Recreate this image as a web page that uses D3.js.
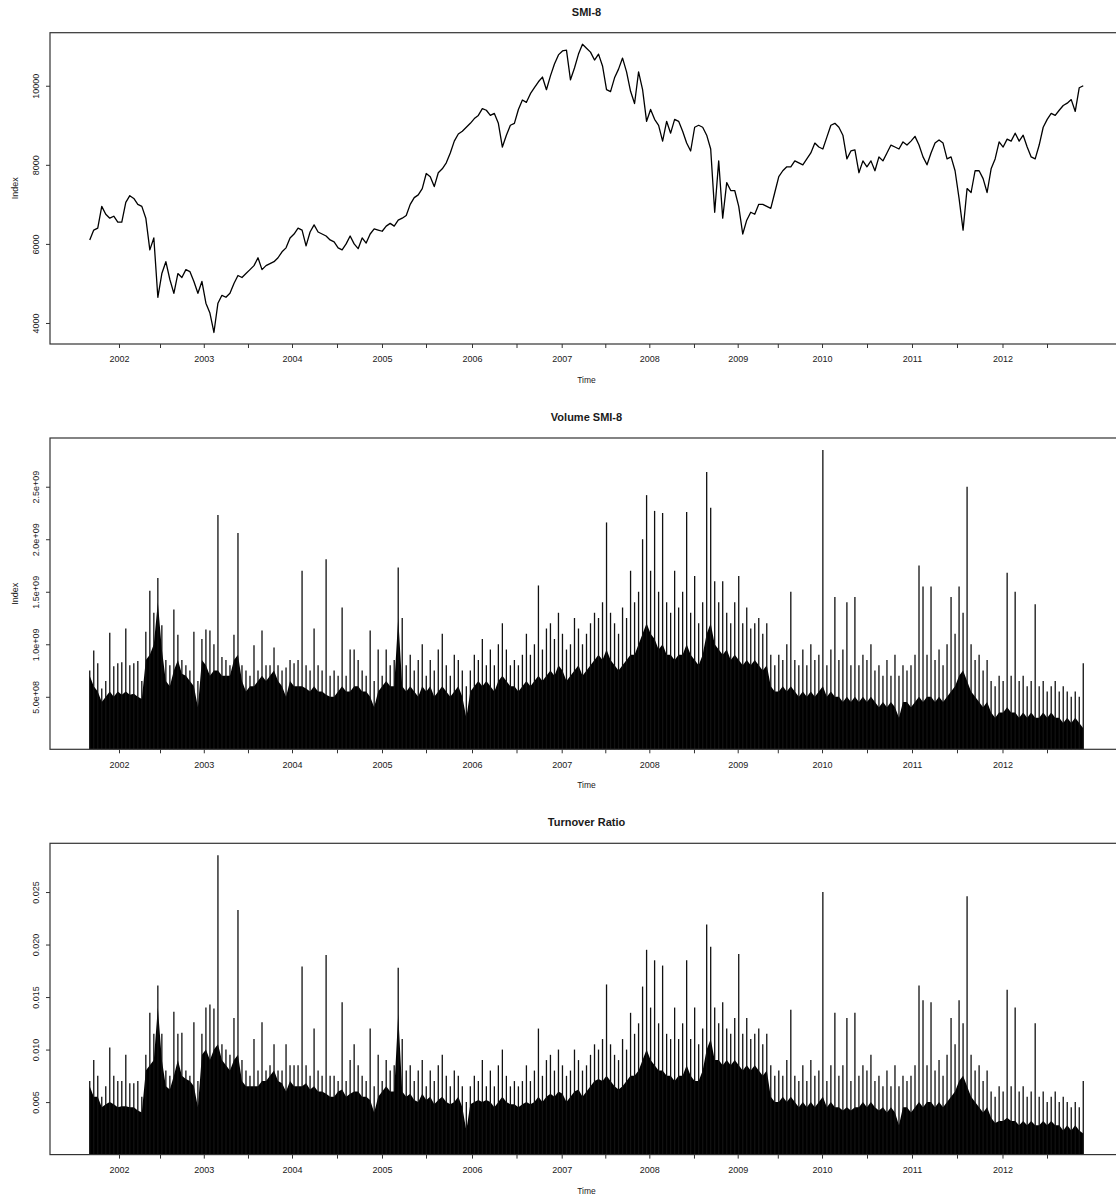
<!DOCTYPE html>
<html>
<head>
<meta charset="utf-8">
<script src="https://cdn.jsdelivr.net/npm/d3@7"></script>
<style>
body { margin: 0; background: #fff; }
svg text { font-family: "Liberation Sans", Arial, sans-serif; fill: #1a1a1a; }
</style>
</head>
<body>
<svg id="chart" width="1116" height="1195"></svg>
<script>
// SMI-8 closing level, one sample per ~12 trading days (Sep 2001 - Nov 2012)
const smiIndex = [
  6100, 6350, 6400, 6950, 6750, 6650, 6700, 6550, 6550, 7050,
  7220, 7150, 7000, 6950, 6650, 5850, 6150, 4650, 5250, 5550,
  5100, 4750, 5250, 5150, 5350, 5300, 5050, 4750, 5050, 4500,
  4250, 3760, 4500, 4700, 4650, 4750, 5000, 5200, 5150, 5250,
  5350, 5450, 5650, 5350, 5450, 5500, 5550, 5650, 5800, 5900,
  6150, 6250, 6400, 6350, 5950, 6300, 6480, 6300, 6250, 6200,
  6100, 6050, 5900, 5850, 6000, 6200, 6000, 5880, 6150, 6020,
  6250, 6380, 6350, 6320, 6450, 6520, 6450, 6600, 6650, 6720,
  7000, 7170, 7240, 7400, 7780, 7700, 7450, 7800, 7900, 8050,
  8300, 8600, 8780, 8850, 8950, 9050, 9170, 9250, 9420, 9380,
  9250, 9300, 9050, 8450, 8750, 9000, 9050, 9400, 9640, 9580,
  9800, 9950, 10100, 10220, 9900, 10250, 10550, 10780, 10880, 10900,
  10150, 10450, 10800, 11050, 10950, 10850, 10650, 10800, 10500, 9900,
  9850, 10200, 10420, 10700, 10350, 9860, 9550, 10350, 9900, 9100,
  9400, 9150, 9000, 8600, 9100, 8800, 9150, 9100, 8850, 8550,
  8350, 8950, 9000, 8950, 8750, 8400, 6800, 8100, 6650, 7550,
  7350, 7350, 6950, 6250, 6600, 6800, 6750, 7000, 7000, 6950,
  6900, 7300, 7700, 7850, 7950, 7950, 8100, 8050, 8000, 8150,
  8300, 8550, 8450, 8400, 8700, 9000, 9050, 8950, 8750, 8150,
  8350, 8380, 7800, 8100, 7950, 8100, 7850, 8200, 8100, 8300,
  8500, 8450, 8400, 8580, 8500, 8600, 8720, 8500, 8200, 8000,
  8300, 8550, 8630, 8550, 8150, 8200, 7850, 7150, 6350, 7400,
  7300, 7850, 7850, 7650, 7300, 7900, 8150, 8580, 8450, 8650,
  8600, 8800, 8600, 8750, 8450, 8200, 8150, 8500, 8950, 9150,
  9300, 9250, 9380, 9500, 9560, 9650, 9350, 9950, 10000
]

// volume in units of 1e8: solid body level and highest spike per sample
const volumeLow = [
  7.0, 6.0, 5.5, 4.5, 5.0, 5.5, 5.0, 5.5, 5.2, 5.5,
  5.2, 5.3, 5.0, 4.8, 8.5, 9.0, 10.0, 14.0, 9.5, 6.5,
  6.0, 7.5, 8.5, 7.2, 7.0, 6.5, 6.0, 4.0, 8.5, 8.0,
  7.0, 7.5, 7.5, 7.0, 7.0, 7.0, 8.5, 9.0, 6.5, 5.5,
  6.0, 6.0, 6.5, 7.0, 6.5, 7.0, 7.5, 6.5, 6.0, 5.0,
  6.5, 6.0, 6.0, 6.0, 5.8, 5.5, 6.0, 5.5, 5.5, 5.2,
  5.0, 5.0, 5.5, 6.0, 5.5, 5.5, 6.0, 6.0, 5.5, 5.5,
  5.0, 4.0, 5.5, 6.0, 6.5, 6.0, 6.0, 12.5, 6.0, 5.5,
  6.0, 5.5, 5.0, 6.0, 5.5, 6.0, 5.0, 5.5, 6.0, 5.5,
  5.0, 5.5, 6.0, 5.0, 3.0, 5.5, 6.0, 6.5, 6.0, 6.5,
  6.0, 5.5, 6.5, 7.0, 6.5, 6.0, 6.0, 5.5, 6.0, 6.5,
  6.0, 6.5, 7.0, 6.5, 7.0, 7.5, 7.0, 8.0, 7.5, 6.5,
  7.0, 7.5, 8.0, 7.0, 7.5, 8.0, 8.5, 9.0, 8.5, 9.5,
  8.5, 8.0, 7.5, 8.0, 8.5, 9.0, 9.0, 10.0, 11.0, 12.0,
  11.0, 10.5, 9.5, 10.0, 9.0, 9.0, 8.5, 9.0, 9.0, 10.0,
  9.0, 8.5, 8.0, 9.0, 11.0, 12.0, 10.0, 9.5, 9.0, 9.5,
  8.5, 9.0, 8.5, 8.0, 8.5, 8.0, 8.5, 8.0, 7.5, 8.0,
  6.0, 5.5, 5.5, 6.0, 5.5, 6.0, 5.5, 5.0, 5.5, 5.0,
  5.5, 5.0, 5.5, 6.0, 5.0, 5.5, 5.0, 5.0, 4.5, 5.0,
  4.5, 5.0, 4.5, 5.0, 4.5, 5.0, 4.5, 4.0, 4.5, 4.0,
  4.5, 4.0, 3.0, 4.5, 4.5, 4.0, 4.5, 5.0, 4.5, 5.0,
  5.0, 4.5, 5.0, 4.5, 5.0, 5.5, 6.0, 7.0, 7.5, 6.5,
  5.5, 5.0, 4.5, 4.0, 4.5, 3.5, 3.0, 3.5, 3.5, 4.0,
  3.5, 3.5, 3.0, 3.5, 3.0, 3.5, 3.0, 3.0, 3.5, 3.0,
  3.5, 3.0, 3.0, 2.5, 3.0, 2.5, 3.0, 2.5, 2.0
]
const volumeHigh = [
  7.5, 9.4, 8.2, 5.8, 6.5, 11.1, 7.9, 8.2, 8.3, 11.5,
  8.0, 8.2, 8.4, 6.5, 11.2, 15.1, 13.0, 16.3, 11.8, 8.5,
  8.0, 13.3, 10.9, 8.5, 8.0, 7.5, 11.2, 6.5, 10.5, 11.4,
  11.3, 10.0, 22.3, 8.8, 8.5, 8.0, 10.9, 20.6, 8.0, 7.5,
  7.0, 9.9, 7.5, 11.3, 8.0, 8.0, 9.7, 8.0, 7.5, 7.8,
  8.5, 8.2, 8.5, 17.0, 8.0, 7.5, 11.5, 8.0, 7.5, 18.1,
  7.0, 7.5, 7.0, 13.5, 7.0, 9.5, 9.5, 8.5, 7.5, 7.0,
  11.3, 6.5, 9.5, 7.0, 9.5, 8.0, 8.5, 17.3, 12.5, 8.0,
  9.0, 7.5, 8.5, 10.0, 7.0, 8.5, 7.5, 9.5, 11.0, 8.0,
  7.0, 9.0, 8.5, 7.5, 6.0, 7.5, 9.0, 8.5, 10.5, 8.0,
  9.5, 8.0, 10.0, 12.0, 9.5, 8.0, 8.5, 8.0, 9.0, 11.0,
  9.0, 10.0, 15.6, 9.5, 11.5, 12.0, 10.5, 13.0, 11.0, 9.5,
  10.0, 12.5, 11.5, 10.0, 11.0, 12.0, 13.0, 12.5, 14.0, 21.6,
  13.0, 12.0, 11.0, 13.5, 12.5, 17.0, 14.0, 15.0, 20.0, 24.2,
  17.0, 22.7, 15.0, 22.5, 14.0, 13.0, 17.0, 13.5, 15.0, 22.6,
  13.0, 16.5, 12.0, 14.0, 26.4, 23.0, 16.0, 14.0, 16.0, 13.0,
  12.0, 14.0, 16.5, 12.0, 13.5, 11.5, 12.0, 12.5, 11.0, 12.0,
  9.0, 8.0, 9.0, 8.5, 10.0, 15.0, 8.5, 8.0, 9.5, 8.0,
  10.0, 8.5, 9.0, 28.5, 8.0, 9.5, 14.5, 8.5, 9.5, 14.0,
  8.0, 14.5, 8.0, 9.0, 8.5, 10.0, 7.5, 8.0, 7.0, 8.5,
  7.0, 9.0, 7.0, 8.0, 7.5, 8.0, 9.0, 17.5, 15.5, 9.0,
  15.5, 8.5, 9.5, 8.0, 10.0, 14.5, 11.0, 15.5, 13.0, 25.0,
  10.0, 8.5, 9.0, 7.5, 8.5, 6.5, 6.0, 7.0, 6.5, 16.8,
  7.0, 15.0, 6.5, 7.0, 6.0, 6.5, 13.8, 6.0, 6.5, 5.5,
  6.0, 6.5, 5.5, 6.0, 5.5, 5.0, 5.5, 5.0, 8.2
]

// turnover ratio in units of 1e-3
const turnoverLow = [
  6.5, 5.5, 5.5, 4.5, 4.8, 5.0, 4.8, 4.5, 4.6, 4.6,
  4.5, 4.5, 4.2, 4.0, 8.0, 8.5, 9.0, 14.0, 9.0, 6.5,
  6.2, 7.5, 9.0, 7.5, 7.2, 7.0, 6.5, 4.5, 9.5, 10.0,
  9.0, 10.0, 10.5, 9.0, 8.5, 8.0, 9.0, 9.5, 7.0, 6.5,
  6.5, 6.5, 6.5, 7.0, 7.0, 7.5, 8.0, 7.0, 6.8, 6.0,
  7.0, 6.5, 6.5, 6.5, 6.8, 6.2, 6.5, 6.0, 6.0, 5.8,
  5.5, 5.5, 6.0, 6.2, 5.5, 5.8, 6.0, 6.0, 5.5, 5.5,
  5.2, 4.0, 5.5, 6.0, 6.5, 6.0, 6.0, 13.4, 6.0, 5.5,
  5.8, 5.2, 5.0, 5.8, 5.2, 5.5, 4.8, 5.2, 5.5, 5.0,
  4.8, 5.0, 5.5, 4.5, 2.3, 4.8, 5.0, 5.2, 5.0, 5.2,
  5.0, 4.5, 5.0, 5.5, 5.0, 4.8, 4.8, 4.5, 4.8, 5.0,
  4.8, 5.0, 5.5, 5.0, 5.5, 5.8, 5.5, 6.0, 5.8, 5.0,
  5.5, 6.0, 6.2, 5.5, 6.0, 6.5, 7.0, 7.2, 7.0, 7.5,
  7.0, 6.5, 6.2, 6.5, 7.0, 7.5, 7.5, 8.0, 9.0, 10.0,
  9.0, 8.5, 8.0, 8.0, 7.5, 7.5, 7.0, 7.5, 7.5, 8.5,
  7.5, 7.0, 7.0, 8.0, 10.0, 11.0, 9.0, 9.0, 8.5, 9.0,
  8.5, 9.0, 8.5, 8.0, 8.5, 8.0, 8.5, 8.0, 7.5, 8.0,
  5.5, 5.0, 5.0, 5.5, 5.0, 5.5, 5.0, 4.5, 5.0, 4.5,
  5.0, 4.5, 5.0, 5.5, 4.5, 5.0, 4.5, 4.5, 4.2, 4.5,
  4.2, 4.5, 4.5, 5.0, 4.5, 5.0, 4.5, 4.2, 4.5, 4.0,
  4.5, 4.0, 2.8, 4.5, 4.5, 4.0, 4.5, 5.0, 4.5, 5.0,
  5.0, 4.5, 5.0, 4.5, 5.0, 5.5, 6.0, 7.0, 7.5, 6.5,
  5.5, 5.0, 4.5, 4.0, 4.5, 3.5, 3.0, 3.2, 3.2, 3.5,
  3.2, 3.2, 2.8, 3.2, 2.8, 3.2, 2.8, 2.8, 3.2, 2.8,
  3.2, 2.8, 2.8, 2.3, 2.8, 2.3, 2.8, 2.3, 2.0
]
const turnoverHigh = [
  7.0, 9.0, 7.5, 5.5, 6.5, 10.2, 7.5, 7.0, 7.0, 9.5,
  6.8, 6.8, 7.0, 5.5, 9.5, 13.5, 11.5, 16.1, 11.5, 8.0,
  7.5, 13.6, 11.5, 11.6, 8.0, 7.5, 12.6, 7.0, 11.5, 14.0,
  14.3, 13.9, 28.5, 10.5, 10.0, 9.5, 13.0, 23.3, 9.0, 8.0,
  7.5, 11.0, 8.0, 12.6, 8.0, 8.5, 10.5, 8.0, 8.0, 10.5,
  8.5, 8.5, 8.5, 17.9, 8.5, 7.5, 12.0, 8.0, 7.5, 19.0,
  7.5, 7.5, 7.0, 14.5, 7.0, 9.0, 10.5, 8.5, 7.5, 7.0,
  12.0, 6.5, 9.5, 7.0, 9.0, 8.0, 8.5, 17.8, 11.0, 8.0,
  8.5, 7.0, 8.0, 9.0, 6.5, 8.0, 7.0, 8.5, 9.5, 7.5,
  6.5, 8.0, 7.5, 6.5, 5.0, 6.5, 7.5, 7.0, 9.0, 6.5,
  8.0, 6.5, 8.5, 10.0, 7.5, 6.5, 7.0, 6.5, 7.0, 8.5,
  7.0, 8.0, 12.0, 7.5, 9.0, 9.5, 8.0, 10.0, 8.5, 7.5,
  8.0, 10.0, 9.0, 8.0, 8.5, 9.5, 10.5, 10.0, 11.0, 16.2,
  10.5, 9.5, 9.0, 11.0, 10.0, 13.5, 11.5, 12.5, 16.0, 19.5,
  14.0, 18.5, 12.5, 18.0, 11.5, 11.0, 14.0, 11.0, 12.5, 18.5,
  11.0, 14.0, 10.5, 12.0, 21.9, 19.8, 14.0, 12.5, 14.5, 12.0,
  11.5, 13.0, 19.1, 11.5, 13.0, 11.0, 11.5, 12.0, 10.5, 11.5,
  8.5, 7.5, 8.0, 7.5, 9.0, 13.8, 7.5, 7.0, 8.5, 7.0,
  9.0, 7.5, 8.0, 25.0, 7.0, 8.5, 13.5, 7.5, 8.5, 13.0,
  7.0, 13.5, 7.5, 8.5, 8.0, 9.5, 7.0, 7.5, 6.5, 8.0,
  6.5, 8.5, 6.5, 7.5, 7.0, 7.5, 8.5, 16.1, 14.7, 8.5,
  14.5, 8.0, 9.0, 7.5, 9.5, 13.0, 10.5, 14.7, 12.5, 24.6,
  9.5, 8.0, 8.5, 7.0, 8.0, 6.0, 5.5, 6.5, 6.0, 15.7,
  6.5, 14.0, 6.0, 6.5, 5.5, 6.0, 12.5, 5.5, 6.0, 5.0,
  5.5, 6.0, 5.0, 5.5, 5.0, 4.5, 5.0, 4.5, 7.0
]

// x axis: year ticks sit on the sample index where each year starts
const yearTickPos = [7.30, 28.47, 50.49, 72.95, 95.42, 117.81, 139.68, 161.74, 182.79, 205.25, 227.84]
const yearLabels = ['2002', '2003', '2004', '2005', '2006', '2007', '2008', '2009', '2010', '2011', '2012']
const midYearTickPos = [17.54, 39.50, 61.72, 83.94, 106.53, 128.69, 150.83, 171.75, 194.02, 216.48, 238.95]

const smiTicks = [4000, 6000, 8000, 10000]
const volumeTicks = [5e8, 1e9, 1.5e9, 2e9, 2.5e9]
const volumeTickLabels = ['5.0e+08', '1.0e+09', '1.5e+09', '2.0e+09', '2.5e+09']
const turnoverTicks = [0.005, 0.010, 0.015, 0.020, 0.025]
const turnoverTickLabels = ['0.005', '0.010', '0.015', '0.020', '0.025']

// d3-selection-multi is not loaded, so give selections a small attrs helper
d3.selection.prototype.attrs = function (obj) {
    for (const k in obj) this.attr(k, obj[k])
    return this
}

const svg = d3.select('#chart')
const plotLeft = 50, plotRight = 1123
const panelTops = [32.7, 438, 843.3]
const panelH = 311.3
const n = smiIndex.length

const x = d3.scaleLinear()
    .domain([-0.04 * (n - 1), 1.04 * (n - 1)])
    .range([plotLeft, plotRight])

function rRange(vals) {
    const lo = d3.min(vals), hi = d3.max(vals)
    const pad = 0.04 * (hi - lo)
    return [lo - pad, hi + pad]
}

function drawFrame(g, top, y, cfg) {
    const bottom = top + panelH
    const mid = (plotLeft + plotRight) / 2

    g.append('rect')
        .attrs({
            x: plotLeft, y: top, width: plotRight - plotLeft, height: panelH,
            fill: 'none', stroke: '#333', 'stroke-width': 1.2
        })

    const ticks = yearTickPos.concat(midYearTickPos)
    const xAxis = g.append('g')
        .attr('transform', 'translate(0,' + bottom + ')')
        .call(d3.axisBottom(x)
            .tickValues(ticks)
            .tickSize(4)
            .tickPadding(8)
            .tickFormat(d => {
                const k = yearTickPos.indexOf(d)
                return k >= 0 ? yearLabels[k] : ''
            }))
    xAxis.select('.domain').remove()
    xAxis.selectAll('line').attr('stroke', '#333')
    xAxis.selectAll('text').attr('font-size', 9).attr('fill', '#1a1a1a')

    const yAxis = g.append('g')
        .attr('transform', 'translate(' + plotLeft + ',0)')
        .call(d3.axisLeft(y)
            .tickValues(cfg.ticks)
            .tickSize(4)
            .tickFormat((d, i) => cfg.labels[i]))
    yAxis.select('.domain').remove()
    yAxis.selectAll('line').attr('stroke', '#333')
    yAxis.selectAll('text')
        .attr('x', 0)
        .attr('dy', 0)
        .attr('text-anchor', 'middle')
        .attr('font-size', 9)
        .attr('fill', '#1a1a1a')
        .attr('transform', 'translate(-11.5,0) rotate(-90)')

    g.append('text')
        .attr('x', mid)
        .attr('y', top - 17)
        .attr('text-anchor', 'middle')
        .attr('font-size', 11)
        .attr('font-weight', 'bold')
        .text(cfg.title)

    g.append('text')
        .attr('x', mid)
        .attr('y', bottom + 39)
        .attr('text-anchor', 'middle')
        .attr('font-size', 8.5)
        .text('Time')

    if (cfg.ylabel) {
        g.append('text')
            .attr('transform', 'translate(18,' + (top + panelH / 2) + ') rotate(-90)')
            .attr('text-anchor', 'middle')
            .attr('font-size', 9)
            .text(cfg.ylabel)
    }
}

function linePanel(top) {
    const g = svg.append('g')
    const y = d3.scaleLinear().domain(rRange(smiIndex)).range([top + panelH, top])

    g.append('path')
        .datum(smiIndex)
        .attr('fill', 'none')
        .attr('stroke', '#000')
        .attr('stroke-width', 1.3)
        .attr('stroke-linejoin', 'round')
        .attr('d', d3.line().x((d, i) => x(i)).y(d => y(d)))

    drawFrame(g, top, y, { title: 'SMI-8', ylabel: 'Index', ticks: smiTicks, labels: smiTicks.map(String) })
}

function spikePanel(top, low, high, cfg) {
    const g = svg.append('g')
    const y = d3.scaleLinear().domain([0, d3.max(high) * 1.04]).range([top + panelH, top])

    g.append('path')
        .datum(low)
        .attr('fill', '#000')
        .attr('d', d3.area().x((d, i) => x(i)).y0(y(0)).y1(d => y(d)))

    g.selectAll('line.spike')
        .data(high)
        .join('line')
        .attr('class', 'spike')
        .attr('x1', (d, i) => x(i))
        .attr('x2', (d, i) => x(i))
        .attr('y1', y(0))
        .attr('y2', d => y(d))
        .attr('stroke', '#111')
        .attr('stroke-width', 1.3)

    drawFrame(g, top, y, cfg)
}

linePanel(panelTops[0])
spikePanel(panelTops[1], volumeLow.map(v => v * 1e8), volumeHigh.map(v => v * 1e8),
    { title: 'Volume SMI-8', ylabel: 'Index', ticks: volumeTicks, labels: volumeTickLabels })
spikePanel(panelTops[2], turnoverLow.map(v => v * 1e-3), turnoverHigh.map(v => v * 1e-3),
    { title: 'Turnover Ratio', ylabel: '', ticks: turnoverTicks, labels: turnoverTickLabels })
</script>
</body>
</html>
